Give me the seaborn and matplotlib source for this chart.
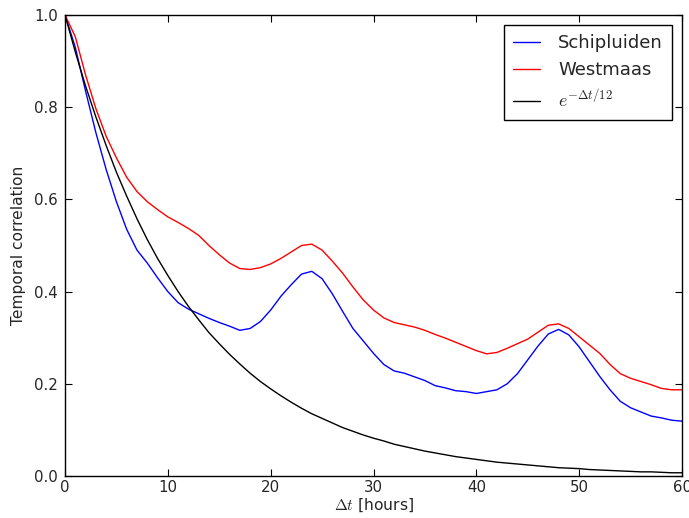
import numpy as np
import pandas as pd
import matplotlib
matplotlib.use("Agg")
import matplotlib.pyplot as plt
import seaborn as sns

hours = list(range(0, 61))

schipluiden = [1.0, 0.93, 0.835, 0.745, 0.665, 0.595, 0.535, 0.49, 0.462, 0.43,
               0.40, 0.376, 0.362, 0.352, 0.342, 0.333, 0.325, 0.316, 0.32, 0.335,
               0.36, 0.39, 0.415, 0.438, 0.444, 0.428, 0.395, 0.357, 0.32, 0.293,
               0.266, 0.242, 0.228, 0.223, 0.215, 0.207, 0.196, 0.191, 0.185, 0.183,
               0.179, 0.183, 0.187, 0.2, 0.222, 0.252, 0.282, 0.308, 0.318, 0.306,
               0.28, 0.248, 0.216, 0.187, 0.162, 0.148, 0.139, 0.13, 0.126, 0.121, 0.119]

westmaas = [1.0, 0.953, 0.87, 0.797, 0.737, 0.69, 0.648, 0.617, 0.595, 0.578,
            0.562, 0.55, 0.537, 0.522, 0.50, 0.48, 0.462, 0.45, 0.448, 0.452,
            0.46, 0.472, 0.486, 0.5, 0.503, 0.49, 0.466, 0.44, 0.41, 0.382,
            0.36, 0.343, 0.333, 0.328, 0.323, 0.316, 0.307, 0.299, 0.29, 0.281,
            0.272, 0.265, 0.268, 0.277, 0.287, 0.297, 0.312, 0.327, 0.33, 0.32,
            0.302, 0.284, 0.266, 0.242, 0.222, 0.212, 0.205, 0.198, 0.19, 0.187, 0.187]

exp_model = [1.000, 0.920, 0.846, 0.779, 0.717, 0.659, 0.607, 0.558, 0.513, 0.472,
             0.435, 0.400, 0.368, 0.339, 0.311, 0.287, 0.264, 0.243, 0.223, 0.205,
             0.189, 0.174, 0.160, 0.147, 0.135, 0.125, 0.115, 0.105, 0.097, 0.089,
             0.082, 0.076, 0.069, 0.064, 0.059, 0.054, 0.050, 0.046, 0.042, 0.039,
             0.036, 0.033, 0.030, 0.028, 0.026, 0.024, 0.022, 0.020, 0.018, 0.017,
             0.016, 0.014, 0.013, 0.012, 0.011, 0.010, 0.009, 0.009, 0.008, 0.007, 0.007]

series_names = ["Schipluiden", "Westmaas", r"$e^{-\Delta t/12}$"]
series_colors = ["#0000ff", "#ff0000", "#000000"]

df = pd.concat([
    pd.DataFrame({"t": hours, "corr": schipluiden, "series": series_names[0]}),
    pd.DataFrame({"t": hours, "corr": westmaas, "series": series_names[1]}),
    pd.DataFrame({"t": hours, "corr": exp_model, "series": series_names[2]}),
])

sns.set_theme(style="white")
plt.rcParams["font.family"] = ["DejaVu Sans"]
plt.rcParams["mathtext.fontset"] = "cm"
plt.rcParams["xtick.direction"] = "in"
plt.rcParams["ytick.direction"] = "in"

fig = plt.figure(figsize=(6.89, 5.18), dpi=100)
ax = fig.add_axes([65/689, 1-476/518, (682-65)/689, (476-15)/518])

sns.lineplot(data=df, x="t", y="corr", hue="series", hue_order=series_names,
             palette=dict(zip(series_names, series_colors)), linewidth=1.0,
             ax=ax, estimator=None)

ax.set_xlim(0, 60)
ax.set_ylim(0, 1.0)
ax.set_xticks([0, 10, 20, 30, 40, 50, 60])
ax.set_yticks([0.0, 0.2, 0.4, 0.6, 0.8, 1.0])
ax.set_yticklabels(["0.0", "0.2", "0.4", "0.6", "0.8", "1.0"])
ax.tick_params(axis="both", which="major", direction="in", length=5, width=0.8,
               color="black", labelsize=10.8, top=True, right=True,
               bottom=True, left=True)
ax.tick_params(axis="x", pad=3)
ax.tick_params(axis="y", pad=5)
for s in ax.spines.values():
    s.set_color("black")
    s.set_linewidth(1.0)
    s.set_visible(True)

ax.set_xlabel(r"$\Delta t$ [hours]", fontsize=11.2, labelpad=1)
ax.set_ylabel("Temporal correlation", fontsize=11.2, labelpad=6)

leg = ax.legend(loc="upper right", fontsize=13, frameon=True, fancybox=False,
                handlelength=1.5, handletextpad=1.0, borderpad=0.5,
                borderaxespad=0.55)
leg.get_frame().set_edgecolor("black")
leg.get_frame().set_linewidth(1.0)
leg.get_frame().set_alpha(1.0)
leg.set_title(None)

fig.savefig("out.png", dpi=100)
